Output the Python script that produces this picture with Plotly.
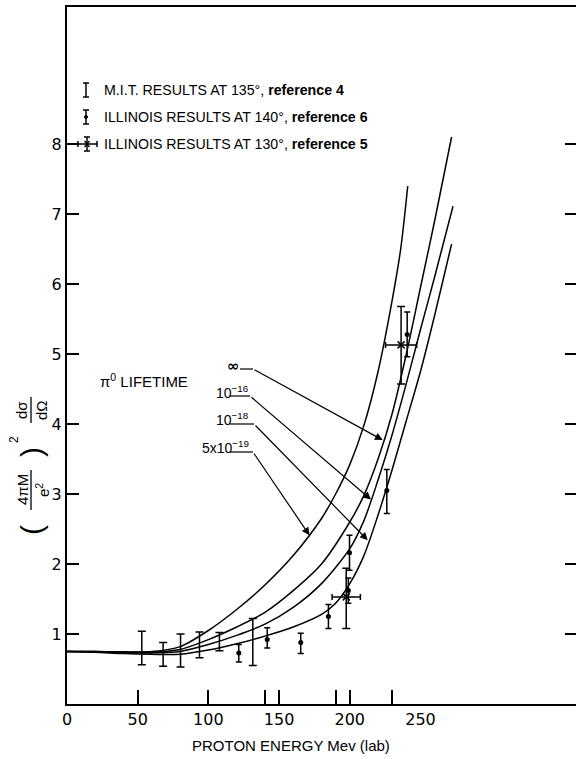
import plotly.graph_objects as go

# ---------------- data ----------------
energy_5e19 = [0, 20, 40, 60, 80, 100, 120, 140, 160, 180, 190, 200, 210, 220, 230, 236, 241]
sigma_5e19 = [0.75, 0.75, 0.745, 0.75, 0.82, 1.05, 1.35, 1.70, 2.12, 2.65, 3.0, 3.42, 3.98, 4.75, 5.77, 6.5, 7.4]

energy_inf = [0, 20, 40, 60, 80, 100, 120, 140, 160, 180, 200, 210, 220, 230, 240, 250, 260, 272]
sigma_inf = [0.75, 0.75, 0.74, 0.74, 0.78, 0.92, 1.10, 1.31, 1.62, 2.0, 2.6, 2.98, 3.5, 4.15, 5.0, 5.95, 6.9, 8.1]

energy_1e16 = [0, 20, 40, 60, 80, 100, 120, 140, 160, 180, 200, 210, 220, 230, 240, 250, 260, 273]
sigma_1e16 = [0.75, 0.745, 0.735, 0.73, 0.75, 0.85, 0.98, 1.14, 1.38, 1.72, 2.22, 2.62, 3.2, 3.85, 4.58, 5.35, 6.1, 7.11]

energy_1e18 = [0, 20, 40, 60, 80, 100, 120, 140, 160, 180, 190, 200, 210, 220, 230, 240, 250, 260, 272]
sigma_1e18 = [0.75, 0.74, 0.72, 0.71, 0.71, 0.77, 0.86, 0.97, 1.10, 1.28, 1.44, 1.72, 2.12, 2.70, 3.35, 4.05, 4.75, 5.55, 6.57]

mit_energy = [52.9, 68.0, 80.3, 93.7, 107.8, 131.4]
mit_sigma = [0.80, 0.71, 0.765, 0.845, 0.89, 0.885]
mit_err = [0.24, 0.17, 0.235, 0.185, 0.13, 0.335]

ill140_energy = [121.5, 141.6, 165.3, 184.9, 199.0, 199.8, 226.2, 240.6]
ill140_sigma = [0.73, 0.92, 0.88, 1.25, 1.62, 2.16, 3.05, 5.28]
ill140_plus = [0.12, 0.17, 0.13, 0.17, 0.18, 0.25, 0.30, 0.32]
ill140_minus = [0.13, 0.12, 0.16, 0.17, 0.18, 0.25, 0.33, 0.32]

ill130_energy = [197.5, 236.3]
ill130_sigma = [1.53, 5.13]
ill130_plus = [0.41, 0.55]
ill130_minus = [0.45, 0.56]
ill130_xerr = [10, 11]

x_label_ticks = [0, 50, 100, 150, 200, 250]
x_marker_ticks = [50, 100, 140, 150, 190, 200, 230]
y_ticks = [1, 2, 3, 4, 5, 6, 7, 8]

# ---------------- layout geometry ----------------
W, H = 576, 759
ML, MR, MT, MB = 67, 0, 7, 55
XMAX = 360.0
YMAX = 9.957
PW, PH = W - ML - MR, H - MT - MB


def X(px):
    return (px - ML) / PW * XMAX


def Y(py):
    return (H - MB - py) / PH * YMAX


def PX(px):
    return (px - ML) / PW


def PY(py):
    return (H - MB - py) / PH


FONT = "Liberation Sans"
TICKFONT = "DejaVu Sans"
BLACK = "black"

fig = go.Figure()

for ex, sy in [(energy_5e19, sigma_5e19), (energy_inf, sigma_inf),
               (energy_1e16, sigma_1e16), (energy_1e18, sigma_1e18)]:
    fig.add_trace(go.Scatter(x=ex, y=sy, mode="lines",
                             line=dict(color=BLACK, width=1.5, shape="spline", smoothing=0.8),
                             showlegend=False, hoverinfo="skip"))

fig.add_trace(go.Scatter(
    x=mit_energy, y=mit_sigma, mode="markers",
    marker=dict(size=1, color="rgba(0,0,0,0)"),
    error_y=dict(type="data", array=mit_err, color=BLACK, thickness=1.5, width=4),
    showlegend=False, hoverinfo="skip"))

fig.add_trace(go.Scatter(
    x=ill140_energy, y=ill140_sigma, mode="markers",
    marker=dict(size=5, color=BLACK),
    error_y=dict(type="data", array=ill140_plus, arrayminus=ill140_minus,
                 color=BLACK, thickness=1.5, width=3),
    showlegend=False, hoverinfo="skip"))

fig.add_trace(go.Scatter(
    x=ill130_energy, y=ill130_sigma, mode="markers",
    marker=dict(size=7, symbol="x-thin", line=dict(color=BLACK, width=1.5)),
    error_y=dict(type="data", array=ill130_plus, arrayminus=ill130_minus,
                 color=BLACK, thickness=1.5, width=4),
    error_x=dict(type="data", array=ill130_xerr, color=BLACK, thickness=1.5, width=3),
    showlegend=False, hoverinfo="skip"))

# invisible traces to anchor the overlay axes
fig.add_trace(go.Scatter(x=[None], y=[None], xaxis="x2", yaxis="y", showlegend=False, hoverinfo="skip"))
fig.add_trace(go.Scatter(x=[None], y=[None], xaxis="x", yaxis="y2", showlegend=False, hoverinfo="skip"))

shapes = []
annotations = []


def seg(x0, y0, x1, y1, w=1.5):
    shapes.append(dict(type="line", xref="x", yref="y", x0=X(x0), y0=Y(y0), x1=X(x1), y1=Y(y1),
                       line=dict(color=BLACK, width=w)))


def pseg(x0, y0, x1, y1, w=1.3):
    shapes.append(dict(type="line", xref="paper", yref="paper", x0=PX(x0), y0=PY(y0), x1=PX(x1),
                       y1=PY(y1), line=dict(color=BLACK, width=w)))


def ptext(t, px, py, size, angle=-90, family=FONT):
    annotations.append(dict(x=PX(px), y=PY(py), xref="paper", yref="paper", text=t, textangle=angle,
                            showarrow=False, xanchor="center", yanchor="middle",
                            font=dict(family=family, size=size, color=BLACK)))


# ---- legend keys ----
leg_y = [90, 117, 144]
seg(86, leg_y[0] - 7, 86, leg_y[0] + 7)
seg(83, leg_y[0] - 7, 89, leg_y[0] - 7)
seg(83, leg_y[0] + 7, 89, leg_y[0] + 7)
seg(86, leg_y[1] - 7, 86, leg_y[1] + 7)
seg(83, leg_y[1] - 7, 89, leg_y[1] - 7)
seg(83, leg_y[1] + 7, 89, leg_y[1] + 7)
shapes.append(dict(type="circle", xref="x", yref="y", x0=X(84.5), x1=X(87.5), y0=Y(leg_y[1] + 1.5),
                   y1=Y(leg_y[1] - 1.5), fillcolor=BLACK, line=dict(color=BLACK, width=1)))
seg(87, leg_y[2] - 7, 87, leg_y[2] + 7)
seg(84, leg_y[2] - 7, 90, leg_y[2] - 7)
seg(84, leg_y[2] + 7, 90, leg_y[2] + 7)
seg(78, leg_y[2], 97, leg_y[2])
seg(78, leg_y[2] - 3, 78, leg_y[2] + 3)
seg(97, leg_y[2] - 3, 97, leg_y[2] + 3)
seg(84.5, leg_y[2] - 3, 89.5, leg_y[2] + 3, 1.2)
seg(84.5, leg_y[2] + 3, 89.5, leg_y[2] - 3, 1.2)

legend_texts = ["M.I.T. RESULTS AT 135°, <b>reference 4</b>",
                "ILLINOIS RESULTS AT 140°, <b>reference 6</b>",
                "ILLINOIS RESULTS AT 130°, <b>reference 5</b>"]
for t, yy in zip(legend_texts, leg_y):
    annotations.append(dict(x=X(102), y=Y(yy), xref="x", yref="y", text=t, showarrow=False,
                            xanchor="left", yanchor="middle", font=dict(family=FONT, size=14.2, color=BLACK)))

# ---- curve labels ----
annotations.append(dict(x=X(98), y=Y(380), xref="x", yref="y", text="π<sup>0</sup> LIFETIME",
                        showarrow=False, xanchor="left", yanchor="middle",
                        font=dict(family=FONT, size=15, color=BLACK)))
annotations.append(dict(x=X(233), y=Y(366), xref="x", yref="y", text="<b>∞</b>",
                        showarrow=False, xanchor="center", yanchor="middle",
                        font=dict(family=TICKFONT, size=15, color=BLACK)))
labels = [("10<sup>−16</sup>", 251, 392), ("10<sup>−18</sup>", 251, 419), ("5x10<sup>−19</sup>", 251, 447)]
for t, xr, yy in labels:
    annotations.append(dict(x=X(xr), y=Y(yy), xref="x", yref="y", text=t, showarrow=False,
                            xanchor="right", yanchor="middle", font=dict(family=FONT, size=14, color=BLACK)))

leaders = [
    ((240, 369), (253, 369), (223.3, 3.77)),
    ((230, 396), (250, 396), (215.0, 2.92)),
    ((230, 424), (254, 424), (212.7, 2.34)),
    ((230, 452), (253, 452), (171.5, 2.41)),
]
for (u0, u1, tip) in leaders:
    seg(u0[0], u0[1], u1[0], u1[1], 1.2)
    annotations.append(dict(x=tip[0], y=tip[1], xref="x", yref="y", ax=X(u1[0]), ay=Y(u1[1]),
                            axref="x", ayref="y", text="", showarrow=True, arrowhead=2,
                            arrowsize=1.3, arrowwidth=1.2, arrowcolor=BLACK, standoff=0))

# x axis title
ptext("PROTON ENERGY Mev (lab)", 291, 745, 15, angle=0)

# y axis title: (4πM / e²)² dσ/dΩ, built from rotated pieces
ptext("(", 31, 530, 30)
ptext("4πM", 22, 490, 15)
pseg(31, 470, 31, 510)
ptext("e<sup>2</sup>", 42, 490, 15)
ptext(")", 31, 452, 30)
ptext("2", 14, 440, 12)
ptext("dσ", 22, 410, 15)
pseg(31, 397, 31, 423)
ptext("dΩ", 42, 410, 15)

fig.update_layout(
    width=W, height=H, margin=dict(l=ML, r=MR, t=MT, b=MB),
    paper_bgcolor="white", plot_bgcolor="white", showlegend=False,
    shapes=shapes, annotations=annotations,
    xaxis=dict(range=[0, XMAX], tickvals=x_label_ticks, ticks="", showgrid=False, zeroline=False,
               showline=True, linecolor=BLACK, linewidth=2, mirror=True,
               tickfont=dict(family=TICKFONT, size=16, color=BLACK)),
    xaxis2=dict(range=[0, XMAX], overlaying="x", side="bottom", tickvals=x_marker_ticks,
                ticks="inside", ticklen=14, tickwidth=1.5, tickcolor=BLACK, showticklabels=False,
                showgrid=False, zeroline=False, showline=False),
    yaxis=dict(range=[0, YMAX], tickvals=y_ticks, ticks="inside", ticklen=12, tickwidth=1.5,
               tickcolor=BLACK, showgrid=False, zeroline=False, showline=True, linecolor=BLACK,
               linewidth=2, tickfont=dict(family=TICKFONT, size=16, color=BLACK)),
    yaxis2=dict(range=[0, YMAX], overlaying="y", side="right", tickvals=y_ticks, ticks="inside",
                ticklen=11, tickwidth=1.5, tickcolor=BLACK, showticklabels=False, showgrid=False,
                zeroline=False, showline=False),
)

fig.write_html("out.html", config={"displayModeBar": False},
               post_script="document.body.style.margin='0';document.body.style.padding='0';"
                           "document.body.style.overflow='hidden';")
